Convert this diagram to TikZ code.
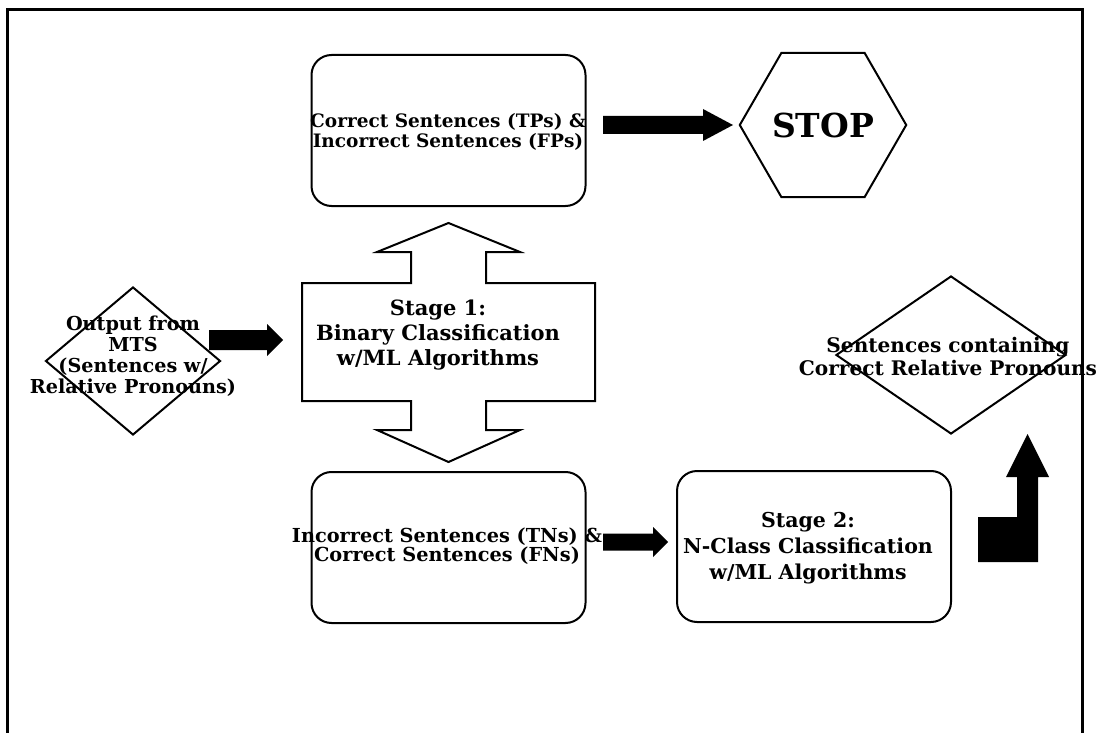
\documentclass[tikz,border=0pt]{standalone}
\usepackage{fontspec}
\setmainfont{DejaVu Serif}
\usetikzlibrary{shapes.geometric,calc}
\begin{document}
\begin{tikzpicture}[x=1pt,y=-1pt,
  box/.style={draw,line width=2pt,rounded corners=20pt,minimum width=274pt,
    minimum height=151pt,inner sep=0pt},
  % bold label: font size / line spacing
  lbl/.style 2 args={align=center,inner sep=0pt,
    font=\bfseries\fontsize{#1}{#2}\selectfont},
  dia/.style={draw,diamond,line width=2pt,inner sep=0pt},
  % filled block arrow from start to target: shaft half-height, head half-height, head length
  blockto/.style n args={3}{to path={
    let \p1=(\tikztostart), \p2=(\tikztotarget) in
    (\x1,\y1+#1) -- (\x2-#3,\y1+#1) -- (\x2-#3,\y1+#2) -- (\x2,\y1)
    -- (\x2-#3,\y1-#2) -- (\x2-#3,\y1-#1) -- (\x1,\y1-#1) -- cycle}},
  blockfill/.style={fill=black}]

\useasboundingbox (0,0) rectangle (1101,733);

% outer frame (open at the bottom)
\draw[line width=3pt] (7.5,733) -- (7.5,10) -- (1082,10) -- (1082,733);

% rounded result boxes
\node[box] (tp) at (448.5,130.5) {};
\node[lbl={18.5}{20}] (tptxt) at (448,132) {Correct Sentences (TPs) \&\\Incorrect Sentences (FPs)};

\node[box] (tn) at (448.5,547.5) {};
\node[lbl={19.3}{18.5}] (tntxt) at (447,546) {Incorrect Sentences (TNs) \&\\Correct Sentences (FNs)};

\node[box] (s2) at (814,546.5) {};
\node[lbl={20.5}{26}] (s2txt) at (808,548) {Stage 2:\\N-Class Classification\\w/ML Algorithms};

% stage 1: box with arrows up and down
\draw[line width=2pt,line join=miter]
  (302,283) -- (411,283) -- (411,252) -- (377,252) -- (448.5,223) -- (520,252)
  -- (486,252) -- (486,283) -- (595,283) -- (595,401) -- (486,401) -- (486,430)
  -- (520,430) -- (448.5,462) -- (377,430) -- (411,430) -- (411,401) -- (302,401) -- cycle;
\node[lbl={21}{25}] (s1) at (438,335) {Stage 1:\\Binary Classification\\w/ML Algorithms};

% input and output diamonds
\node[dia,minimum width=175pt,minimum height=148pt] (mts) at (133,361) {};
\node[lbl={19.2}{21}] (mtstxt) at (133,356.5) {Output from\\MTS\\(Sentences w/\\Relative Pronouns)};

\node[dia,minimum width=230pt,minimum height=158pt] (out) at (951,355) {};
\node[lbl={20.1}{23}] (outtxt) at (948,356.5) {Sentences containing\\Correct Relative Pronouns};

% stop sign
\node[draw,line width=2pt,regular polygon,regular polygon sides=6,minimum size=142pt,
  inner sep=0pt,font=\bfseries\fontsize{33}{33}\selectfont] (stop) at (823,125) {STOP};

% block arrows between the stages
\coordinate (a1s) at (603,125);
\coordinate (a1e) at (733,125);
\fill[blockfill] (a1s) to[blockto={9pt}{16pt}{30pt}] (a1e);

\coordinate (a2s) at (209,340);
\coordinate (a2e) at (283,340);
\fill[blockfill] (a2s) to[blockto={10pt}{16pt}{16pt}] (a2e);

\coordinate (a3s) at (603,542);
\coordinate (a3e) at (668,542);
\fill[blockfill] (a3s) to[blockto={8.5pt}{15pt}{15pt}] (a3e);

% bent arrow rising towards the output diamond
\fill[blockfill] (978,562) -- (978,517) -- (1017,517) -- (1017,477) -- (1006,477)
  -- (1027.5,434) -- (1049,477) -- (1038,477) -- (1038,562) -- cycle;

\end{tikzpicture}
\end{document}
